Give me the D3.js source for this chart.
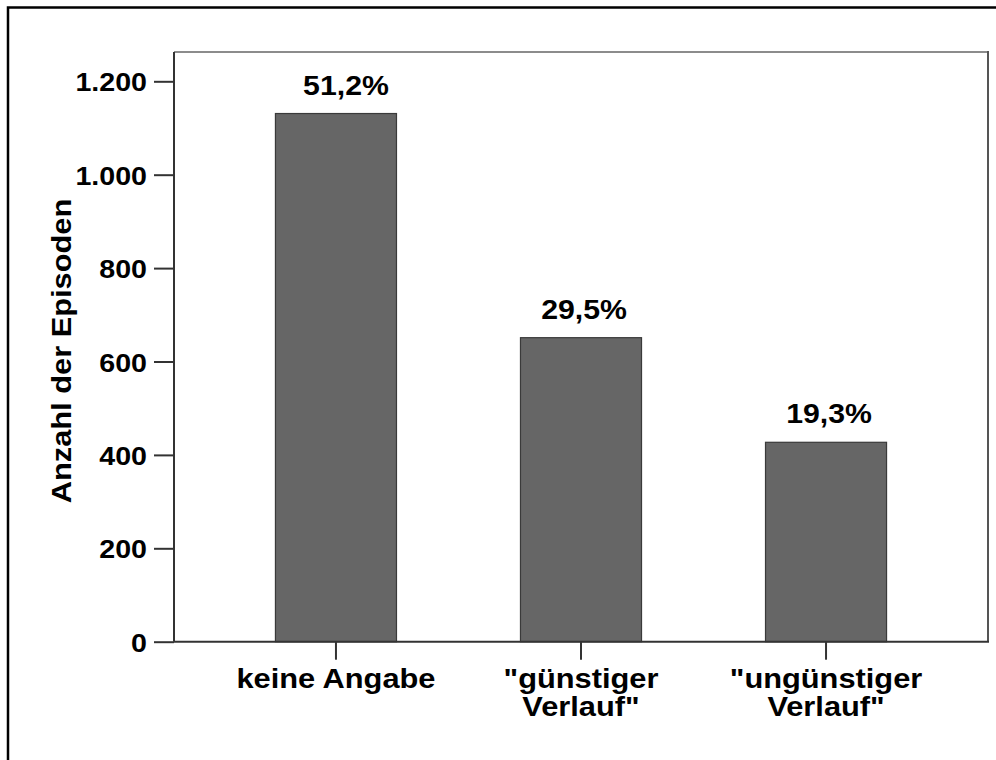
<!DOCTYPE html>
<html>
<head>
<meta charset="utf-8">
<script src="https://cdn.jsdelivr.net/npm/d3@7"></script>
<style>
  html, body { margin: 0; padding: 0; background: #fff; }
  svg { display: block; }
  text { font-family: "Liberation Sans", Arial, sans-serif; font-weight: bold; fill: #000; }
</style>
</head>
<body>
<script>
// ---- data ----
const categories = ["keine Angabe", "\"günstiger Verlauf\"", "\"ungünstiger Verlauf\""];
const categoryLines = [["keine Angabe"], ["\"günstiger", "Verlauf\""], ["\"ungünstiger", "Verlauf\""]];
const counts = [1131, 651, 427];
const percentLabels = ["51,2%", "29,5%", "19,3%"];
const yTicks = [0, 200, 400, 600, 800, 1000, 1200];
const yTickLabels = ["0", "200", "400", "600", "800", "1.000", "1.200"];
const yTitle = "Anzahl der Episoden";

// ---- layout ----
const W = 996, H = 760;
const plot = { left: 174, right: 988, top: 52, bottom: 642 };
const SX = 1.1; // horizontal stretch of the original text rendering
const pctDx = [10, 3, 3]; // label nudges as in the original

const svg = d3.select("body").append("svg").attr("width", W).attr("height", H);

// outer border (top & left only)
svg.append("path")
  .attr("d", `M8,${H} V7.5 H${W}`)
  .attr("fill", "none").attr("stroke", "#000").attr("stroke-width", 2.5);

const x = d3.scaleBand().domain(categories)
  .range([plot.left, plot.right]).paddingInner(0.506).paddingOuter(0.414).align(0.5);
const y = d3.scaleLinear().domain([0, 1200]).range([641.7, 81.3]);

// plot frame: top and right
svg.append("line").attr("x1", plot.left).attr("x2", plot.right)
  .attr("y1", plot.top).attr("y2", plot.top)
  .attr("stroke", "#8c8c8c").attr("stroke-width", 2);
svg.append("line").attr("x1", plot.right).attr("x2", plot.right)
  .attr("y1", plot.top - 1).attr("y2", y(0))
  .attr("stroke", "#555").attr("stroke-width", 2);

// bars
svg.append("g").selectAll("rect").data(counts).join("rect")
  .attr("x", (d, i) => x(categories[i]))
  .attr("y", d => y(d))
  .attr("width", x.bandwidth())
  .attr("height", d => y(0) - y(d))
  .attr("fill", "#666666")
  .attr("stroke", "#3a3a3a").attr("stroke-width", 1.2);

// y axis
const yAxis = d3.axisLeft(y).tickValues(yTicks).tickSize(20).tickFormat((d, i) => yTickLabels[i]);
const gy = svg.append("g").attr("transform", `translate(${plot.left},0)`).call(yAxis);
gy.select(".domain").attr("d", `M0,${plot.top}V${y(0)}`).attr("stroke", "#333").attr("stroke-width", 2);
gy.selectAll(".tick line").attr("stroke", "#333").attr("stroke-width", 2);
gy.selectAll(".tick text")
  .attr("x", null).attr("dy", null)
  .attr("transform", `translate(-27,9.5) scale(${SX},1)`)
  .attr("font-size", 26).attr("font-family", "Liberation Sans, Arial, sans-serif")
  .attr("font-weight", "bold").attr("fill", "#000");

// x axis
const xAxis = d3.axisBottom(x).tickSize(18).tickFormat("");
const gx = svg.append("g").attr("transform", `translate(0,${y(0)})`).call(xAxis);
gx.select(".domain").attr("d", `M${plot.left},0H${plot.right + 1}`).attr("stroke", "#333").attr("stroke-width", 2);
gx.selectAll(".tick line").attr("stroke", "#333").attr("stroke-width", 2);

// category labels
const catG = svg.append("g").selectAll("g").data(categoryLines).join("g")
  .attr("transform", (d, i) => `translate(${x(categories[i]) + x.bandwidth() / 2},0)`);
catG.each(function (lines) {
  d3.select(this).selectAll("text").data(lines).join("text")
    .attr("text-anchor", "middle")
    .attr("font-size", 28)
    .attr("transform", (l, j) => `translate(0,${688 + j * 28}) scale(${SX},1)`)
    .text(l => l);
});

// percent labels
svg.append("g").selectAll("text").data(counts).join("text")
  .attr("text-anchor", "middle")
  .attr("font-size", 28)
  .attr("transform", (d, i) => `translate(${x(categories[i]) + x.bandwidth() / 2 + pctDx[i]},${y(d) - 19}) scale(1.08,1)`)
  .text((d, i) => percentLabels[i]);

// y title
svg.append("text")
  .attr("text-anchor", "middle")
  .attr("font-size", 28)
  .attr("transform", `translate(71,351) rotate(-90) scale(${SX},1)`)
  .text(yTitle);
</script>
</body>
</html>
